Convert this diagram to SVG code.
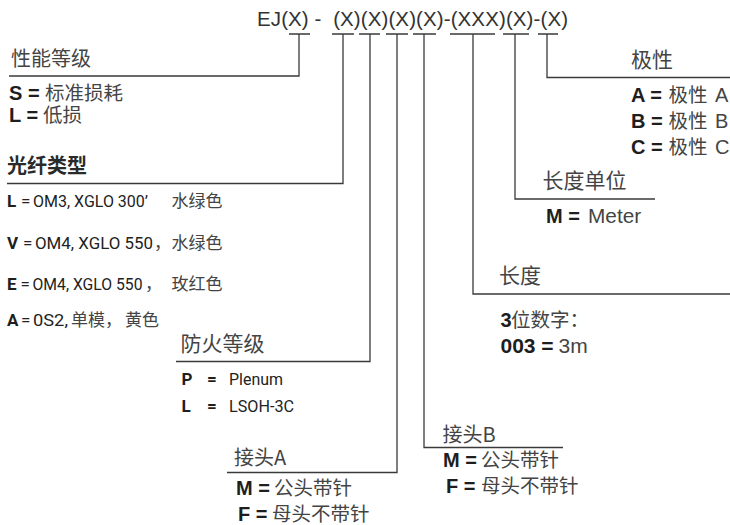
<svg xmlns="http://www.w3.org/2000/svg" width="730" height="525" viewBox="0 0 730 525">
<style>
.bg{fill:#fff}
.ln{fill:none;stroke:#3a3a3a;stroke-width:1.3}
.ttl{font-family:"Liberation Sans",Arial,sans-serif;font-size:20.5px;fill:#333}
.lbl{font-family:"Noto Sans CJK SC",sans-serif;font-size:20px;fill:#444}
.hd{font-family:"Noto Sans CJK SC",sans-serif;font-size:20px;font-weight:bold;fill:#2a2a2a}
.b{font-family:"Liberation Sans",Arial,sans-serif;font-weight:bold;font-size:20px;fill:#1e1e1e}
.r{font-family:"Liberation Sans",Arial,sans-serif;font-size:20px;fill:#444}
.cj{font-family:"Noto Sans CJK SC",sans-serif;font-size:19.5px;fill:#444}
.cb{font-family:Roboto,"Liberation Sans",sans-serif;font-weight:bold;font-size:17px;fill:#1e1e1e}
.cr{font-family:Roboto,"Liberation Sans",sans-serif;font-size:17px;fill:#222}
.cs{font-family:"Noto Sans CJK SC",sans-serif;font-size:17px;fill:#444}
</style>
<rect class="bg" x="0" y="0" width="730" height="525"/>
<text class="ttl" x="257" y="26" textLength="311" lengthAdjust="spacing" xml:space="preserve">EJ(X) -  (X)(X)(X)(X)-(XXX)(X)-(X)</text>
<g id="connectors">
<path class="ln" d="M289,34H310M299,34V76H9"/>
<path class="ln" d="M332,34H354M343,34V183.5H7"/>
<path class="ln" d="M359,34H380M370,34V361.5H176"/>
<path class="ln" d="M386,34H408M397,34V472.5H227"/>
<path class="ln" d="M413,34H436M424,34V447.5H563"/>
<path class="ln" d="M450,34H495M473,34V294H730"/>
<path class="ln" d="M503,34H529M515,34V199H655"/>
<path class="ln" d="M538,34H558M547,34V77.5H730"/>
</g>
<g id="performance">
<text class="lbl" x="11" y="66">性能等级</text>
<text x="9" y="100"><tspan class="b">S =</tspan><tspan class="cj" x="45">标准损耗</tspan></text>
<text x="9" y="121.5"><tspan class="b">L =</tspan><tspan class="cj" x="43">低损</tspan></text>
</g>
<g id="fiber">
<text class="hd" x="7" y="173">光纤类型</text>
<text y="207"><tspan class="cb" x="7">L</tspan><tspan class="cr" x="21">=</tspan><tspan class="cr" x="33" textLength="115" lengthAdjust="spacingAndGlyphs">OM3, XGLO 300’</tspan><tspan class="cs" x="171.5">水绿色</tspan></text>
<text y="249"><tspan class="cb" x="7">V</tspan><tspan class="cr" x="23">=</tspan><tspan class="cr" x="35" textLength="118" lengthAdjust="spacingAndGlyphs">OM4, XGLO 550</tspan><tspan class="cs" x="154">，</tspan><tspan class="cs" x="171.5">水绿色</tspan></text>
<text y="290"><tspan class="cb" x="7">E</tspan><tspan class="cr" x="20.5">=</tspan><tspan class="cr" x="32.5" textLength="110" lengthAdjust="spacingAndGlyphs">OM4, XGLO 550</tspan><tspan class="cs" x="145">，</tspan><tspan class="cs" x="171.5">玫红色</tspan></text>
<text y="326"><tspan class="cb" x="7">A</tspan><tspan class="cr" x="21">=</tspan><tspan class="cr" x="33" textLength="35" lengthAdjust="spacingAndGlyphs">0S2,</tspan><tspan class="cs" x="71">单模，</tspan><tspan class="cs" x="125">黄色</tspan></text>
</g>
<g id="fire">
<text class="lbl" x="180.5" y="351" style="font-size:21px">防火等级</text>
<text y="385"><tspan class="cb" x="181.5">P</tspan><tspan class="cb" x="207">=</tspan><tspan class="cr" x="229" textLength="54" lengthAdjust="spacingAndGlyphs">Plenum</tspan></text>
<text y="411.5"><tspan class="cb" x="181.5">L</tspan><tspan class="cb" x="207">=</tspan><tspan class="cr" x="229" textLength="65" lengthAdjust="spacingAndGlyphs">LSOH-3C</tspan></text>
</g>
<g id="connectorA">
<text class="lbl" x="234" y="465">接头A</text>
<text y="495"><tspan class="b" x="236">M =</tspan><tspan class="cj" x="274">公头带针</tspan></text>
<text y="520.5"><tspan class="b" x="238">F =</tspan><tspan class="cj" x="272">母头不带针</tspan></text>
</g>
<g id="connectorB">
<text class="lbl" x="442.5" y="441.5">接头B</text>
<text y="466.5"><tspan class="b" x="443">M =</tspan><tspan class="cj" x="481">公头带针</tspan></text>
<text y="492.5"><tspan class="b" x="446">F =</tspan><tspan class="cj" x="481">母头不带针</tspan></text>
</g>
<g id="length">
<text class="lbl" x="499" y="283" style="font-size:21px">长度</text>
<text y="326.5"><tspan class="b" x="500.5">3</tspan><tspan class="cj" x="511">位数字：</tspan></text>
<text y="353"><tspan class="b" x="500.5" style="font-size:21px">003 =</tspan><tspan class="r" x="558.5" style="font-size:21px">3m</tspan></text>
</g>
<g id="unit">
<text class="lbl" x="542.5" y="188" style="font-size:21px">长度单位</text>
<text y="223"><tspan class="b" x="546">M =</tspan><tspan class="r" x="588" style="font-size:20.8px">Meter</tspan></text>
</g>
<g id="polarity">
<text class="lbl" x="631" y="66.5" style="font-size:21px">极性</text>
<text y="101.5"><tspan class="b" x="631">A =</tspan><tspan class="cj" x="668.5">极性</tspan><tspan class="r" x="715">A</tspan></text>
<text y="127.5"><tspan class="b" x="631">B =</tspan><tspan class="cj" x="668.5">极性</tspan><tspan class="r" x="715">B</tspan></text>
<text y="153.5"><tspan class="b" x="631">C =</tspan><tspan class="cj" x="668.5">极性</tspan><tspan class="r" x="715">C</tspan></text>
</g>
</svg>
